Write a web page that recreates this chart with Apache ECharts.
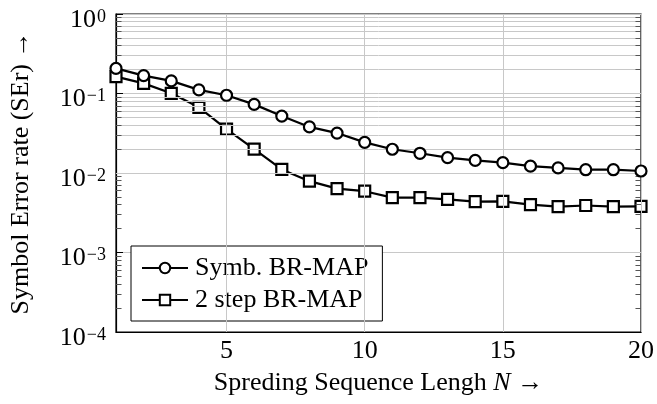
<!DOCTYPE html>
<html>
<head>
<meta charset="utf-8">
<script src="https://cdn.jsdelivr.net/npm/echarts@6/dist/echarts.min.js"></script>
<style>
  html, body { margin:0; padding:0; background:#fff; }
  #chart { width:657px; height:404px; }
</style>
</head>
<body>
<div id="chart"></div>
<script type="text/javascript">
  // spreading sequence length N
  var xN = [1,2,3,4,5,6,7,8,9,10,11,12,13,14,15,16,17,18,19,20];
  // symbol error rate
  var symbBrMap = [0.207,0.168,0.144,0.111,0.095,0.073,0.052,0.038,0.0318,0.0243,
                   0.0199,0.0177,0.0156,0.0144,0.0135,0.0122,0.0116,0.0110,0.0110,0.0106];
  var twoStepBrMap = [0.163,0.134,0.1005,0.067,0.0357,0.020,0.0111,0.0079,0.00635,0.0059,
                      0.0049,0.0049,0.00467,0.00436,0.0044,0.0040,0.00377,0.0039,0.00377,0.0038];
  var xTicks = [5,10,15,20];
  var decades = [1e-4,1e-3,1e-2,1e-1,1];
  var minorFactors = [2,3,4,5,6,7,8,9];

  var serif = '"Liberation Serif", "DejaVu Serif", serif';

  // minor grid lines (2..9 x 10^k) and small inward ticks on both sides
  var minorGrid = [], minorTicks = [];
  for (var d = 0; d < decades.length - 1; d++) {
    for (var m = 0; m < minorFactors.length; m++) {
      var v = decades[d] * minorFactors[m];
      minorGrid.push({ yAxis: v });
      minorTicks.push([{ coord: [1, v] }, { coord: [1.2, v] }]);
      minorTicks.push([{ coord: [19.8, v] }, { coord: [20, v] }]);
    }
  }
  var vGrid = [];
  for (var i = 0; i < xTicks.length; i++) vGrid.push({ xAxis: xTicks[i] });

  function pairs(ys) {
    var out = [];
    for (var i = 0; i < xN.length; i++) out.push([xN[i], ys[i]]);
    return out;
  }

  var myChart = echarts.init(document.getElementById('chart'));
  myChart.setOption({
    animation: false,
    backgroundColor: '#fff',
    grid: {
      left: 115, right: 14, top: 14, bottom: 72,
      show: true, borderColor: '#000', borderWidth: 1.2, backgroundColor: 'transparent'
    },
    legend: {
      data: ['Symb. BR-MAP', '2 step BR-MAP'],
      orient: 'vertical',
      left: 131, top: 246,
      padding: [9, 14, 8, 10],
      itemGap: 6,
      itemWidth: 46, itemHeight: 13,
      backgroundColor: '#fff',
      borderColor: '#000', borderWidth: 1,
      borderRadius: 0,
      textStyle: { fontFamily: serif, fontSize: 26, color: '#000', padding: [0,0,0,2] }
    },
    xAxis: {
      type: 'value', min: 1, max: 20,
      name: 'Spreding Sequence Lengh {i|N} \u2192',
      nameLocation: 'middle', nameGap: 38,
      nameTextStyle: {
        fontFamily: serif, fontSize: 26, color: '#000',
        rich: { i: { fontFamily: serif, fontSize: 26, fontStyle: 'italic', color: '#000' } }
      },
      axisLine: { show: true, lineStyle: { color: '#000', width: 1.2 } },
      axisTick: { show: true, inside: true, length: 6, customValues: xTicks, lineStyle: { color: '#000' } },
      axisLabel: { customValues: xTicks, fontFamily: serif, fontSize: 26, color: '#000', margin: 6 },
      splitLine: { show: false }
    },
    yAxis: {
      type: 'log', logBase: 10, min: 1e-4, max: 1,
      name: 'Symbol Error rate (SEr) \u2192',
      nameLocation: 'middle', nameGap: 82,
      nameTextStyle: { fontFamily: serif, fontSize: 26, color: '#000' },
      axisLine: { show: true, lineStyle: { color: '#000', width: 1.2 } },
      axisTick: { show: true, inside: true, length: 7, lineStyle: { color: '#000' } },
      axisLabel: {
        margin: 10,
        formatter: function (val) {
          var e = Math.round(Math.log(val) / Math.LN10);
          var s = e < 0 ? '\u2212' + (-e) : String(e);
          return '{b|10}{s|' + s + '}';
        },
        rich: {
          b: { fontFamily: serif, fontSize: 26, lineHeight: 26, color: '#000', verticalAlign: 'top', padding: [6,0,0,0] },
          s: { fontFamily: serif, fontSize: 18, lineHeight: 18, color: '#000', verticalAlign: 'top', padding: [7,0,0,1] }
        }
      },
      splitLine: { show: true, lineStyle: { color: '#c8c8c8', width: 1 } },
      minorTick: { show: false }
    },
    series: [
      {
        name: 'grid',
        type: 'line',
        data: [],
        silent: true,
        z: 1,
        markLine: {
          silent: true, symbol: 'none', animation: false,
          label: { show: false },
          lineStyle: { color: '#c8c8c8', width: 1, type: 'solid' },
          data: minorGrid.concat(vGrid)
        }
      },
      {
        name: 'ticks',
        type: 'line',
        data: [],
        silent: true,
        z: 2,
        markLine: {
          silent: true, symbol: 'none', animation: false,
          label: { show: false },
          lineStyle: { color: '#555', width: 1, type: 'solid' },
          data: minorTicks
        }
      },
      {
        name: 'Symb. BR-MAP',
        type: 'line',
        z: 5,
        data: pairs(symbBrMap),
        symbol: 'circle', symbolSize: 11,
        lineStyle: { color: '#000', width: 2.2 },
        itemStyle: { color: '#fff', borderColor: '#000', borderWidth: 2.2 }
      },
      {
        name: '2 step BR-MAP',
        type: 'line',
        z: 4,
        data: pairs(twoStepBrMap),
        symbol: 'rect', symbolSize: 11,
        lineStyle: { color: '#000', width: 2.2 },
        itemStyle: { color: '#fff', borderColor: '#000', borderWidth: 2.2 }
      }
    ]
  });
</script>
</body>
</html>
